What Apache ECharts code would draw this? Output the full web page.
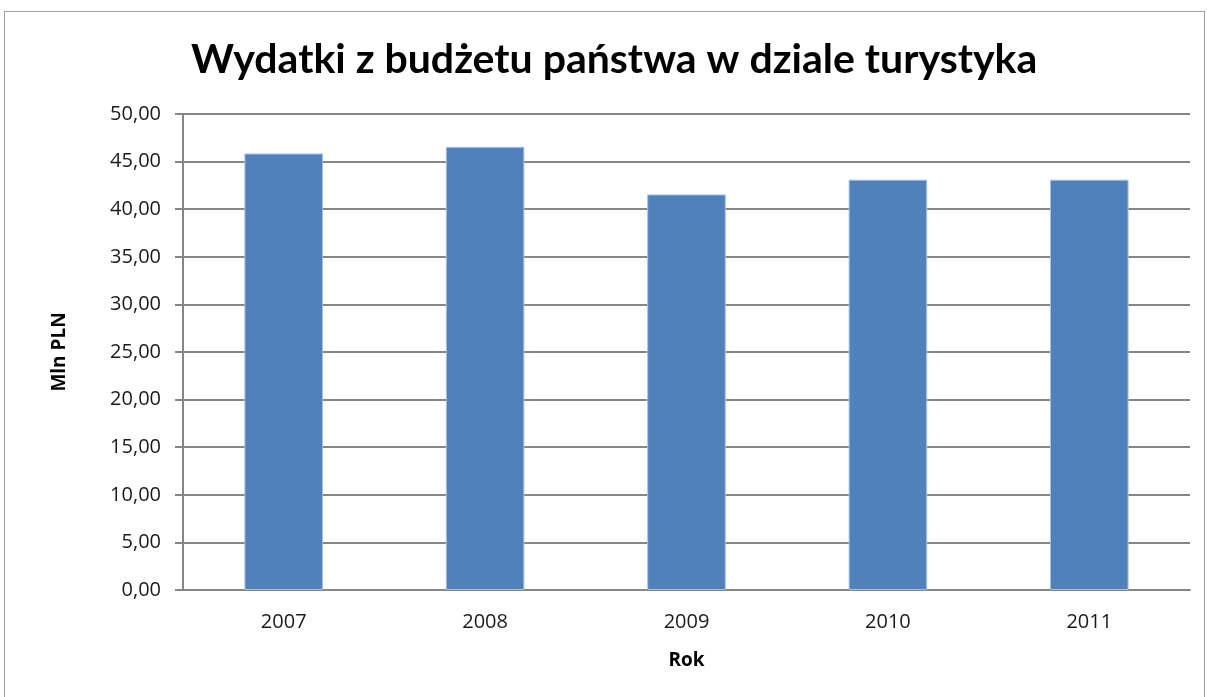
<!DOCTYPE html>
<html><head><meta charset="utf-8">
<script src="https://cdn.jsdelivr.net/npm/echarts@6/dist/echarts.min.js"></script>
<style>
html,body{margin:0;padding:0;background:#fff;}
#frame{position:absolute;left:4px;top:11px;width:1201px;height:690px;border:1px solid #a0a0a0;box-sizing:border-box;}
#c{position:absolute;left:0;top:0;width:1207px;height:697px;}
</style></head>
<body>
<div id="frame"></div>
<div id="c"></div>
<script>
const categories = ['2007','2008','2009','2010','2011'];
const values = [45.85, 46.55, 41.55, 43.1, 43.1];
const titleText = 'Wydatki z budżetu państwa w dziale turystyka';
const yName = 'Mln PLN';
const xName = 'Rok';

const chart = echarts.init(document.getElementById('c'), null, {renderer:'canvas'});
chart.setOption({
  animation:false,
  backgroundColor:'transparent',
  title:{text:titleText,left:186,top:34,
    textStyle:{fontFamily:'Lato',fontWeight:'bold',fontSize:41,color:'#000'}},
  grid:{left:183,right:17,top:114,bottom:107},
  xAxis:{type:'category',data:categories,
    name:xName,nameLocation:'middle',nameGap:61,
    nameTextStyle:{fontFamily:'Open Sans',fontWeight:'bold',fontSize:19,color:'#000'},
    axisLine:{lineStyle:{color:'#868686',width:2}},
    axisTick:{show:false},
    axisLabel:{fontFamily:'Open Sans',fontSize:20,color:'#1a1a1a',margin:22}},
  yAxis:{type:'value',min:0,max:50,interval:5,
    name:yName,nameLocation:'middle',nameGap:114,
    nameTextStyle:{fontFamily:'Open Sans',fontWeight:'bold',fontSize:19,color:'#000'},
    axisLine:{show:true,lineStyle:{color:'#868686',width:2}},
    axisTick:{show:true,length:8,lineStyle:{color:'#868686',width:2}},
    splitLine:{lineStyle:{color:'#868686',width:2}},
    axisLabel:{fontFamily:'Open Sans',fontSize:20,color:'#1a1a1a',margin:22,
      formatter:v=>v.toFixed(2).replace('.',',')}},
  series:[{type:'bar',data:values,barWidth:'39%',
    itemStyle:{color:'#4f81bd',borderColor:'#a7c0e0',borderWidth:1}}]
});
</script>
</body></html>
